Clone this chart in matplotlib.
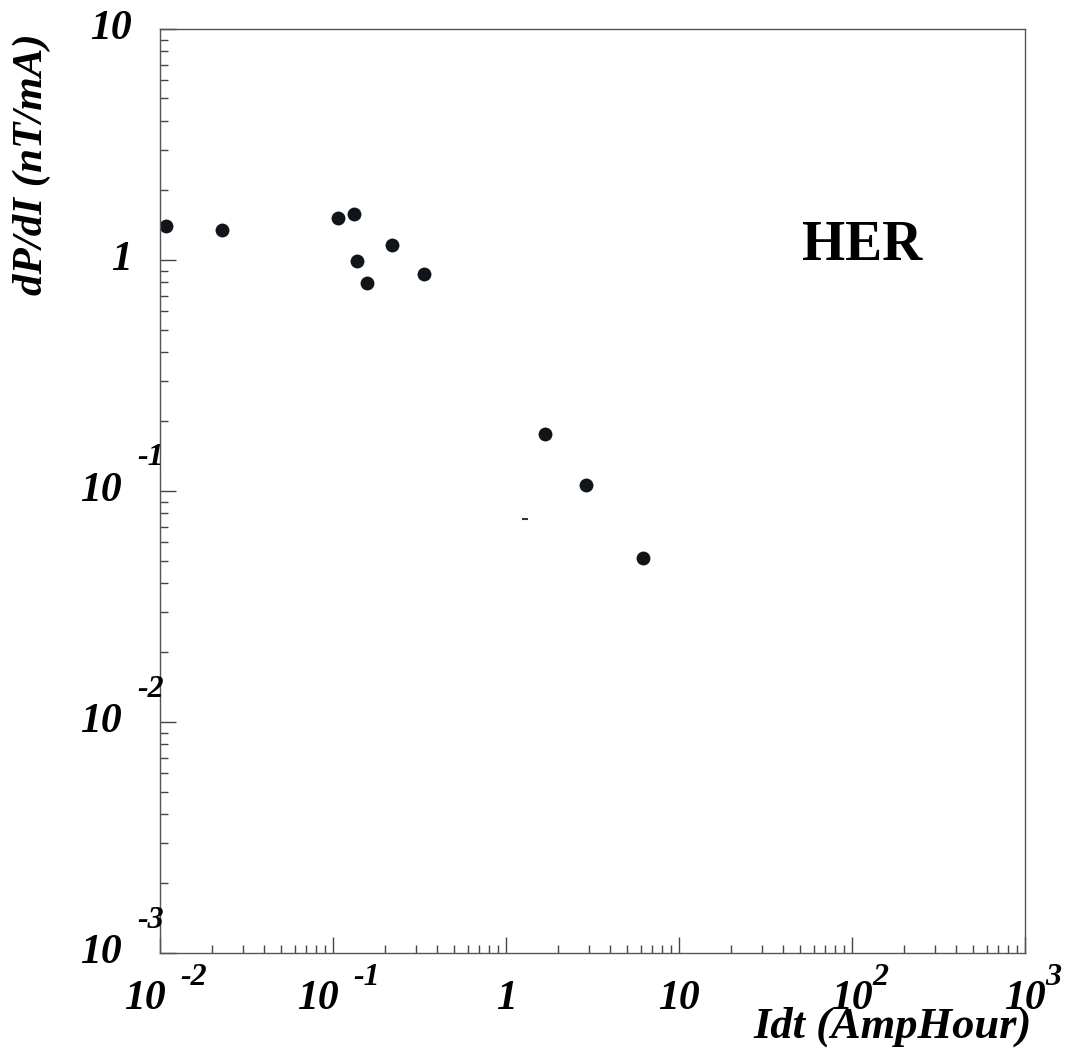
import matplotlib.pyplot as plt
import numpy as np

plt.rcParams['font.family'] = ['Liberation Serif', 'DejaVu Serif']

# data
idt = [0.0108, 0.0228, 0.107, 0.132, 0.138, 0.157, 0.219, 0.336, 1.68, 2.90, 6.19]
dpdi = [1.40, 1.35, 1.52, 1.58, 0.99, 0.795, 1.16, 0.87, 0.177, 0.106, 0.0513]
# small stray mark in the scan
stray_x = [1.29]
stray_y = [0.076]

xtick_vals = [1e-2, 1e-1, 1, 10, 1e2, 1e3]
xtick_base = ['10', '10', '1', '10', '10', '10']
xtick_exp = ['-2', '-1', '', '', '2', '3']
ytick_vals = [1e-3, 1e-2, 1e-1, 1, 10]
ytick_base = ['10', '10', '10', '1', '10']
ytick_exp = ['-3', '-2', '-1', '', '']

px = 0.72  # points per pixel at dpi 100

fig = plt.figure(figsize=(10.75, 10.49), dpi=100)
ax = fig.add_axes([0.1488, 0.0915, 0.8047, 0.8809])

ax.plot(idt, dpdi, 'o', color='#111418', markersize=10, markeredgewidth=0)
ax.plot(stray_x, stray_y, '_', color='#333333', markersize=4, markeredgewidth=1.5)

ax.set_xscale('log')
ax.set_yscale('log')
ax.set_xlim(1e-2, 1e3)
ax.set_ylim(1e-3, 10)

for s in ax.spines.values():
    s.set_color('#555555')
    s.set_linewidth(1.0)

ax.tick_params(which='both', direction='in', top=False, right=False,
               labelbottom=False, labelleft=False, color='#444444', width=1.0)
ax.tick_params(which='major', length=16 * px)
ax.tick_params(which='minor', length=8 * px)

tfont = dict(fontsize=30, fontweight='bold', fontstyle='italic')
sfont = dict(fontsize=23, fontweight='bold', fontstyle='italic')

# x tick labels: base number and exponent as separate texts
for v, b, e in zip(xtick_vals, xtick_base, xtick_exp):
    dx = -15 if e.startswith('-') else 0
    ax.annotate(b, xy=(v, 0), xycoords=('data', 'axes fraction'),
                xytext=(dx * px, -46 * px), textcoords='offset points',
                ha='center', va='center', annotation_clip=False, **tfont)
    if e:
        ax.annotate(e, xy=(v, 0), xycoords=('data', 'axes fraction'),
                    xytext=(20 * px, -24 * px), textcoords='offset points',
                    ha='left', va='center', annotation_clip=False, **sfont)

# y tick labels
for v, b, e in zip(ytick_vals, ytick_base, ytick_exp):
    dx = -38 if e else -28
    ax.annotate(b, xy=(0, v), xycoords=('axes fraction', 'data'),
                xytext=(dx * px, 0), textcoords='offset points',
                ha='right', va='center', annotation_clip=False, **tfont)
    if e:
        ax.annotate(e, xy=(0, v), xycoords=('axes fraction', 'data'),
                    xytext=(-23 * px, 33 * px), textcoords='offset points',
                    ha='left', va='center', annotation_clip=False, **sfont)

fig.text(32 / 1075, 1 - 164 / 1049, 'dP/dI (nT/mA)', rotation=90,
         ha='center', va='center', fontsize=31, fontweight='bold', fontstyle='italic')
fig.text(893 / 1075, 1 - 1027 / 1049, 'Idt (AmpHour)',
         ha='center', va='center', fontsize=32, fontweight='bold', fontstyle='italic')

ax.text(0.812, 0.765, 'HER', transform=ax.transAxes, ha='center', va='center',
        fontsize=40, fontweight='bold')

fig.savefig('out.png', dpi=100)
